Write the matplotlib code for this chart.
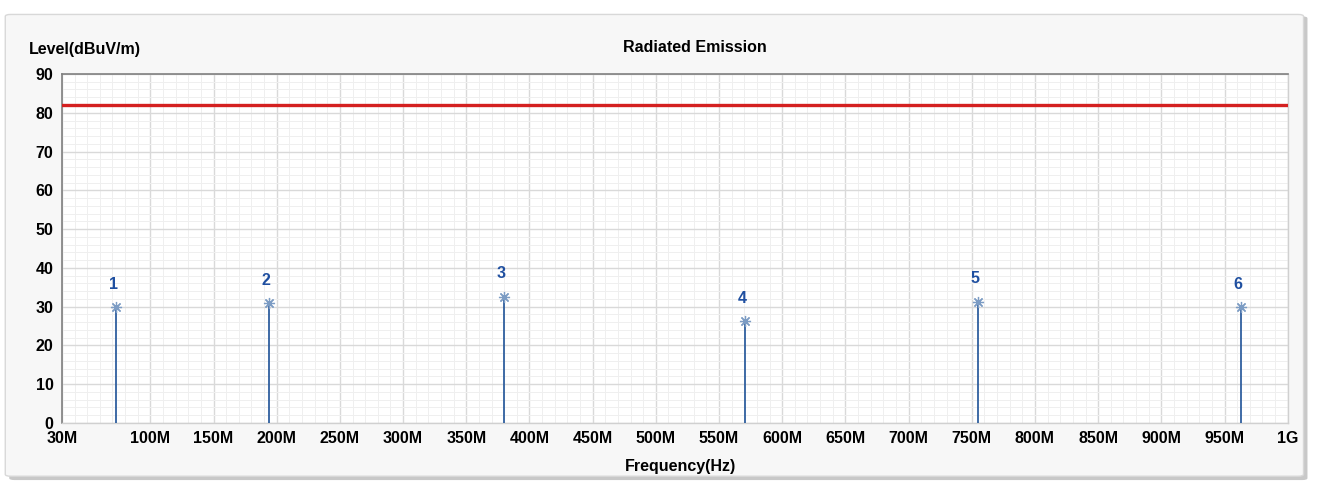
import numpy as np
import matplotlib.pyplot as plt
from matplotlib.patches import FancyBboxPatch
from matplotlib.ticker import MultipleLocator

# peaks found in the scan
freq_mhz = [72.8, 194.0, 380.0, 570.8, 755.0, 962.7]
level = [29.9, 31.0, 32.6, 26.2, 31.3, 29.9]
peak_no = ['1', '2', '3', '4', '5', '6']

limit = 82.0
f_min, f_max = 30, 1000

xticks = [30, 100, 150, 200, 250, 300, 350, 400, 450, 500, 550, 600,
          650, 700, 750, 800, 850, 900, 950, 1000]
xlabels = ['30M', '100M', '150M', '200M', '250M', '300M', '350M', '400M',
           '450M', '500M', '550M', '600M', '650M', '700M', '750M', '800M',
           '850M', '900M', '950M', '1G']
yticks = list(range(0, 91, 10))

plt.rcParams['font.family'] = ['Liberation Sans', 'DejaVu Sans']
plt.rcParams['font.weight'] = 'bold'

fig = plt.figure(figsize=(13.18, 4.82), dpi=100)
fig.patch.set_facecolor('white')

# panel behind the plot
shadow = FancyBboxPatch((0.007, 0.004), 0.985, 0.962, boxstyle='round,pad=0,rounding_size=0.004',
                        transform=fig.transFigure, facecolor='#c8c8c8', edgecolor='none', zorder=-2)
panel = FancyBboxPatch((0.004, 0.012), 0.985, 0.958, boxstyle='round,pad=0,rounding_size=0.004',
                       transform=fig.transFigure, facecolor='#f7f7f7', edgecolor='#d8d8d8',
                       linewidth=1, zorder=-1)
fig.patches.extend([shadow, panel])

ax = fig.add_axes([0.047, 0.1224, 0.930, 0.7241])
ax.set_zorder(2)
ax.set_facecolor('white')
ax.set_xlim(f_min, f_max)
ax.set_ylim(0, 90)

ax.set_xticks(xticks)
ax.set_xticklabels(xlabels)
ax.set_yticks(yticks)
ax.xaxis.set_minor_locator(MultipleLocator(10))
ax.yaxis.set_minor_locator(MultipleLocator(2))
ax.grid(which='major', color='#d9d9d9', linewidth=1.0)
ax.grid(which='minor', color='#efefef', linewidth=0.7)
ax.set_axisbelow(True)
ax.tick_params(which='both', length=0, labelsize=11.5, pad=6)
for lab in ax.get_xticklabels() + ax.get_yticklabels():
    lab.set_fontweight('bold')

for side in ['top', 'left']:
    ax.spines[side].set_color('#808080')
    ax.spines[side].set_linewidth(1.2)
for side in ['bottom', 'right']:
    ax.spines[side].set_color('#d0d0d0')
    ax.spines[side].set_linewidth(1.0)

# limit line
ax.plot([f_min, f_max], [limit, limit], color='#d42020', linewidth=2.4, zorder=3)

# peak stems with markers and numbers
for f, v, n in zip(freq_mhz, level, peak_no):
    ax.vlines(f, 0, v, color='#2f5f9f', linewidth=1.3, zorder=4)
    ax.plot(f, v, marker=(8, 2, 0), markersize=8, color='#7c9cc4',
            markeredgewidth=0.9, zorder=5)
    ax.annotate(n, (f, v), xytext=(-2, 11), textcoords='offset points',
                ha='center', va='bottom', color='#1f4fa0', fontsize=11.5,
                fontweight='bold')

fig.text(0.022, 0.898, 'Level(dBuV/m)', fontsize=11.5, fontweight='bold', va='center')
fig.text(0.527, 0.902, 'Radiated Emission', fontsize=11.5, fontweight='bold',
         ha='center', va='center')
fig.text(0.516, 0.033, 'Frequency(Hz)', fontsize=11.5, fontweight='bold',
         ha='center', va='center')

fig.savefig('out.png', dpi=100)
